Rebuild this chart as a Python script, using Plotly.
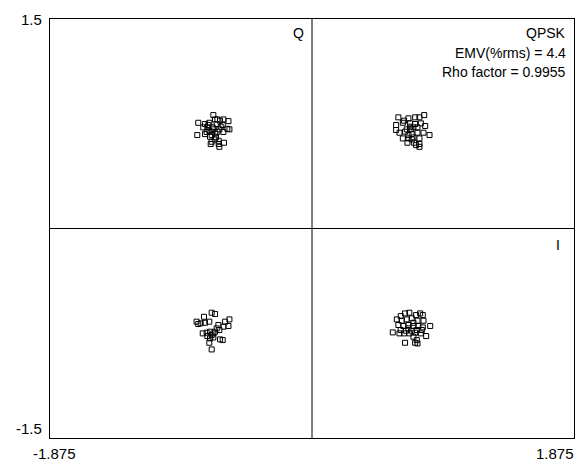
import plotly.graph_objects as go

# QPSK constellation points (I, Q), one list per symbol cluster
i_tl = [-0.706, -0.677, -0.634, -0.598, -0.814, -0.766, -0.735, -0.682, -0.639, -0.606,
        -0.591, -0.749, -0.711, -0.663, -0.634, -0.754, -0.718, -0.692, -0.766, -0.821,
        -0.730, -0.687, -0.718, -0.668, -0.725, -0.668, -0.630, -0.696, -0.663, -0.706,
        -0.735, -0.778, -0.658, -0.694, -0.718, -0.742, -0.677, -0.653]
q_tl = [0.812, 0.781, 0.781, 0.769, 0.757, 0.748, 0.757, 0.748, 0.741, 0.714,
        0.710, 0.724, 0.724, 0.710, 0.691, 0.691, 0.693, 0.681, 0.676, 0.669,
        0.657, 0.652, 0.621, 0.628, 0.605, 0.605, 0.614, 0.638, 0.585, 0.710,
        0.700, 0.724, 0.772, 0.781, 0.669, 0.741, 0.693, 0.729]

i_tr = [0.618, 0.659, 0.690, 0.738, 0.769, 0.803, 0.602, 0.650, 0.702, 0.738,
        0.779, 0.810, 0.626, 0.666, 0.707, 0.714, 0.755, 0.798, 0.841, 0.650,
        0.690, 0.726, 0.769, 0.683, 0.731, 0.745, 0.769, 0.769, 0.702, 0.690,
        0.714, 0.602, 0.678, 0.726, 0.755]
q_tr = [0.796, 0.772, 0.789, 0.796, 0.796, 0.812, 0.741, 0.757, 0.753, 0.748,
        0.753, 0.734, 0.686, 0.693, 0.710, 0.676, 0.686, 0.686, 0.669, 0.645,
        0.645, 0.652, 0.645, 0.614, 0.614, 0.597, 0.605, 0.585, 0.729, 0.669,
        0.638, 0.705, 0.710, 0.724, 0.724]

i_bl = [-0.718, -0.694, -0.773, -0.826, -0.797, -0.766, -0.735, -0.591, -0.622, -0.670,
        -0.634, -0.598, -0.782, -0.754, -0.730, -0.706, -0.663, -0.749, -0.718, -0.694,
        -0.730, -0.658, -0.639, -0.735, -0.718, -0.706, -0.682, -0.814]
q_bl = [-0.603, -0.612, -0.632, -0.667, -0.679, -0.675, -0.667, -0.651, -0.667, -0.691,
        -0.703, -0.698, -0.751, -0.746, -0.739, -0.751, -0.727, -0.770, -0.763, -0.739,
        -0.787, -0.794, -0.799, -0.818, -0.866, -0.780, -0.715, -0.684]

i_br = [0.635, 0.666, 0.697, 0.745, 0.774, 0.793, 0.607, 0.642, 0.678, 0.714,
        0.755, 0.798, 0.618, 0.654, 0.690, 0.726, 0.762, 0.793, 0.846, 0.635,
        0.673, 0.714, 0.750, 0.786, 0.578, 0.626, 0.659, 0.697, 0.738, 0.779,
        0.817, 0.726, 0.750, 0.738, 0.755, 0.666, 0.690, 0.726]
q_br = [-0.627, -0.608, -0.603, -0.620, -0.608, -0.620, -0.651, -0.660, -0.651, -0.643,
        -0.660, -0.660, -0.691, -0.698, -0.691, -0.698, -0.698, -0.708, -0.698, -0.727,
        -0.732, -0.732, -0.727, -0.727, -0.744, -0.751, -0.751, -0.751, -0.746, -0.751,
        -0.770, -0.775, -0.799, -0.818, -0.823, -0.818, -0.715, -0.675]

x_range = [-1.875, 1.875]
y_range = [-1.5, 1.5]
info_lines = ["QPSK", "EMV(%rms) = 4.4", "Rho factor = 0.9955"]

FONT = "Liberation Sans, Arial, sans-serif"

fig = go.Figure()
fig.add_trace(go.Scatter(
    x=i_tl + i_tr + i_bl + i_br,
    y=q_tl + q_tr + q_bl + q_br,
    mode="markers",
    marker=dict(symbol="square-open", size=5, color="black", line=dict(width=1, color="black")),
    showlegend=False,
    hoverinfo="x+y",
))

# I / Q axes through the origin
fig.add_shape(type="line", x0=0, x1=0, y0=y_range[0], y1=y_range[1],
              line=dict(color="black", width=1))
fig.add_shape(type="line", x0=x_range[0], x1=x_range[1], y0=0, y1=0,
              line=dict(color="black", width=1))

ann = [
    dict(x=0, y=y_range[1], text="Q", xanchor="right", yanchor="top", xshift=-6, yshift=-4,
         font=dict(size=14)),
    dict(x=x_range[1], y=0, text="I", xanchor="right", yanchor="top", xshift=-12, yshift=-6,
         font=dict(size=14)),
    # corner tick labels
    dict(x=x_range[0], y=y_range[1], text=str(y_range[1]), xanchor="right", yanchor="middle",
         xshift=-6, font=dict(size=15)),
    dict(x=x_range[0], y=y_range[0], text=str(y_range[0]), xanchor="right", yanchor="middle",
         xshift=-6, yshift=10, font=dict(size=15)),
    dict(x=x_range[0], y=y_range[0], text=str(x_range[0]), xanchor="center", yanchor="top",
         xshift=4, yshift=-5, font=dict(size=15)),
    dict(x=x_range[1], y=y_range[0], text=str(x_range[1]), xanchor="right", yanchor="top",
         xshift=2, yshift=-5, font=dict(size=15)),
]
# info block, top right, one line each
for k, line in enumerate(info_lines):
    ann.append(dict(x=x_range[1], y=y_range[1], text=line, xanchor="right", yanchor="top",
                    xshift=-6, yshift=-4 - 19.5 * k, font=dict(size=14)))

for a in ann:
    a["showarrow"] = False
    a["xref"] = "x"
    a["yref"] = "y"
    fig.add_annotation(**a)

axis_style = dict(showgrid=False, zeroline=False, showticklabels=False, ticks="",
                  showline=True, mirror=True, linecolor="black", linewidth=1)
fig.update_xaxes(range=x_range, **axis_style)
fig.update_yaxes(range=y_range, **axis_style)

# page body has an 8px margin, so the figure is sized/offset to fit the window
fig.update_layout(
    width=579, height=456,
    margin=dict(l=42, r=13, t=11, b=26),
    paper_bgcolor="white", plot_bgcolor="white",
    font=dict(family=FONT, color="black"),
)

fig.write_html("out.html")
